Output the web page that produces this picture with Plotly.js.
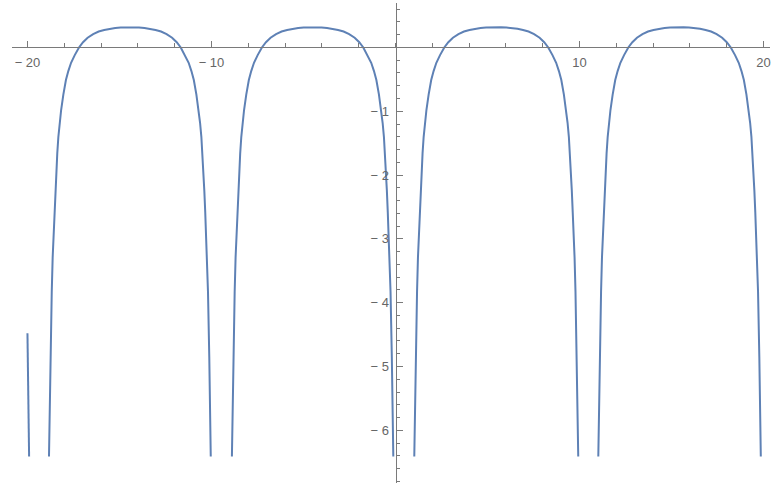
<!DOCTYPE html>
<html>
<head>
<meta charset="utf-8">
<script src="https://cdn.plot.ly/plotly-3.0.1.min.js"></script>
<style>
  html, body { margin: 0; padding: 0; background: #ffffff; }
  #plot { width: 775px; height: 484px; }
</style>
</head>
<body>
<div id="plot"></div>
<script>
// Curve pieces: each lobe of the function between its singularities.
// The tail end of the previous lobe, visible at the left edge
const seg0X = [-20.0, -19.945, -19.91];
const seg0Y = [-4.48, -5.6, -6.41];

const lobe1X = [-18.83, -18.795, -18.75, -18.68, -18.63, -18.58, -18.53, -18.48, -18.43, -18.38, -18.32, -18.25, -18.17, -18.05,
                -17.91, -17.78, -17.63, -17.43, -17.20, -16.98, -16.73, -16.43, -16.13, -15.83, -15.53, -15.23, -14.93, -14.63,
                -14.435,
                -14.24, -13.94, -13.64, -13.34, -13.04, -12.74, -12.44, -12.14, -11.89, -11.67, -11.44, -11.24, -11.09, -10.96,
                -10.82, -10.70, -10.62, -10.55, -10.49, -10.44, -10.39, -10.34, -10.29, -10.24, -10.19, -10.12, -10.075, -10.04];
const lobe1Y = [-6.41, -5.7, -4.85, -3.83, -3.29, -2.91, -2.58, -2.24, -1.92, -1.66, -1.40, -1.18, -0.98, -0.74,
                -0.51, -0.37, -0.24, -0.12, 0.0, 0.083, 0.153, 0.21, 0.25, 0.275, 0.293, 0.305, 0.3125, 0.316,
                0.317,
                0.316, 0.3125, 0.305, 0.293, 0.275, 0.25, 0.21, 0.153, 0.083, 0.0, -0.12, -0.24, -0.37, -0.51,
                -0.74, -0.98, -1.18, -1.40, -1.66, -1.92, -2.24, -2.58, -2.91, -3.29, -3.83, -4.85, -5.7, -6.41];

const lobe2X = [-8.89, -8.855, -8.81, -8.74, -8.69, -8.64, -8.59, -8.54, -8.49, -8.44, -8.38, -8.31, -8.23, -8.11,
                -7.97, -7.84, -7.69, -7.49, -7.26, -7.04, -6.79, -6.49, -6.19, -5.89, -5.59, -5.29, -4.99, -4.69,
                -4.505,
                -4.32, -4.02, -3.72, -3.42, -3.12, -2.82, -2.52, -2.22, -1.97, -1.75, -1.52, -1.32, -1.17, -1.04,
                -0.90, -0.78, -0.70, -0.63, -0.57, -0.52, -0.47, -0.42, -0.37, -0.32, -0.27, -0.20, -0.155, -0.12];
const lobe2Y = [-6.41, -5.7, -4.85, -3.83, -3.29, -2.91, -2.58, -2.24, -1.92, -1.66, -1.40, -1.18, -0.98, -0.74,
                -0.51, -0.37, -0.24, -0.12, 0.0, 0.083, 0.153, 0.21, 0.25, 0.275, 0.293, 0.305, 0.3125, 0.316,
                0.317,
                0.316, 0.3125, 0.305, 0.293, 0.275, 0.25, 0.21, 0.153, 0.083, 0.0, -0.12, -0.24, -0.37, -0.51,
                -0.74, -0.98, -1.18, -1.40, -1.66, -1.92, -2.24, -2.58, -2.91, -3.29, -3.83, -4.85, -5.7, -6.41];

const lobe3X = [1.02, 1.055, 1.10, 1.17, 1.22, 1.27, 1.32, 1.37, 1.42, 1.47, 1.53, 1.60, 1.68, 1.80,
                1.94, 2.07, 2.22, 2.42, 2.65, 2.87, 3.12, 3.42, 3.72, 4.02, 4.32, 4.62, 4.92, 5.22,
                5.475,
                5.73, 6.03, 6.33, 6.63, 6.93, 7.23, 7.53, 7.83, 8.08, 8.30, 8.53, 8.73, 8.88, 9.01,
                9.15, 9.27, 9.35, 9.42, 9.48, 9.53, 9.58, 9.63, 9.68, 9.73, 9.78, 9.85, 9.895, 9.93];
const lobe3Y = [-6.41, -5.7, -4.85, -3.83, -3.29, -2.91, -2.58, -2.24, -1.92, -1.66, -1.40, -1.18, -0.98, -0.74,
                -0.51, -0.37, -0.24, -0.12, 0.0, 0.083, 0.153, 0.21, 0.25, 0.275, 0.293, 0.305, 0.3125, 0.316,
                0.317,
                0.316, 0.3125, 0.305, 0.293, 0.275, 0.25, 0.21, 0.153, 0.083, 0.0, -0.12, -0.24, -0.37, -0.51,
                -0.74, -0.98, -1.18, -1.40, -1.66, -1.92, -2.24, -2.58, -2.91, -3.29, -3.83, -4.85, -5.7, -6.41];

const lobe4X = [11.02, 11.055, 11.10, 11.17, 11.22, 11.27, 11.32, 11.37, 11.42, 11.47, 11.53, 11.60, 11.68, 11.80,
                11.94, 12.07, 12.22, 12.42, 12.65, 12.87, 13.12, 13.42, 13.72, 14.02, 14.32, 14.62, 14.92, 15.22,
                15.435,
                15.65, 15.95, 16.25, 16.55, 16.85, 17.15, 17.45, 17.75, 18.00, 18.22, 18.45, 18.65, 18.80, 18.93,
                19.07, 19.19, 19.27, 19.34, 19.40, 19.45, 19.50, 19.55, 19.60, 19.65, 19.70, 19.77, 19.815, 19.85];
const lobe4Y = [-6.41, -5.7, -4.85, -3.83, -3.29, -2.91, -2.58, -2.24, -1.92, -1.66, -1.40, -1.18, -0.98, -0.74,
                -0.51, -0.37, -0.24, -0.12, 0.0, 0.083, 0.153, 0.21, 0.25, 0.275, 0.293, 0.305, 0.3125, 0.316,
                0.317,
                0.316, 0.3125, 0.305, 0.293, 0.275, 0.25, 0.21, 0.153, 0.083, 0.0, -0.12, -0.24, -0.37, -0.51,
                -0.74, -0.98, -1.18, -1.40, -1.66, -1.92, -2.24, -2.58, -2.91, -3.29, -3.83, -4.85, -5.7, -6.41];

// Tick labels
const xTickVals = [-20, -10, 10, 20];
const xTickText = ["\u2212 20", "\u2212 10", "10", "20"];
const yTickVals = [-1, -2, -3, -4, -5, -6];
const yTickText = ["\u2212 1", "\u2212 2", "\u2212 3", "\u2212 4", "\u2212 5", "\u2212 6"];

// Join the pieces into one trace, with gaps where the function is undefined
const pieces = [[seg0X, seg0Y], [lobe1X, lobe1Y], [lobe2X, lobe2Y], [lobe3X, lobe3Y], [lobe4X, lobe4Y]];
const xs = [], ys = [];
pieces.forEach(([px, py], i) => {
  if (i > 0) { xs.push(null); ys.push(null); }
  xs.push(...px); ys.push(...py);
});

const xRange = [-20.84, 20.35];
const yRange = [-6.826, 0.697];
// axes cross at the origin
const xAxisPos = (0 - yRange[0]) / (yRange[1] - yRange[0]);
const yAxisPos = (0 - xRange[0]) / (xRange[1] - xRange[0]);

const axisColor = '#7a7a7a';
const labelFont = { family: 'Liberation Sans, Arial, sans-serif', size: 13, color: '#666666' };

const trace = {
  x: xs, y: ys,
  type: 'scatter', mode: 'lines',
  connectgaps: false,
  line: { color: '#5E81B5', width: 2 },
  hoverinfo: 'skip'
};

const layout = {
  width: 775, height: 484,
  margin: { l: 12, r: 5, t: 3, b: 1 },
  paper_bgcolor: '#ffffff', plot_bgcolor: '#ffffff',
  showlegend: false,
  xaxis: {
    range: xRange, anchor: 'free', position: xAxisPos,
    showgrid: false, zeroline: false,
    showline: true, linecolor: axisColor, linewidth: 1,
    tickmode: 'array', tickvals: xTickVals, ticktext: xTickText,
    ticks: 'inside', ticklen: 6, tickcolor: axisColor, tickwidth: 1,
    ticklabelstandoff: 3,
    tickfont: labelFont,
    minor: { tickmode: 'linear', tick0: 0, dtick: 2, ticks: 'inside', ticklen: 4, tickcolor: axisColor, showgrid: false }
  },
  yaxis: {
    range: yRange, anchor: 'free', position: yAxisPos,
    showgrid: false, zeroline: false,
    showline: true, linecolor: axisColor, linewidth: 1,
    tickmode: 'array', tickvals: yTickVals, ticktext: yTickText,
    ticks: 'inside', ticklen: 6, tickcolor: axisColor, tickwidth: 1,
    ticklabelstandoff: 4,
    tickfont: labelFont,
    minor: { tickmode: 'linear', tick0: 0, dtick: 0.2, ticks: 'inside', ticklen: 3, tickcolor: axisColor, showgrid: false }
  }
};

Plotly.newPlot('plot', [trace], layout, { staticPlot: true, displayModeBar: false });
</script>
</body>
</html>
